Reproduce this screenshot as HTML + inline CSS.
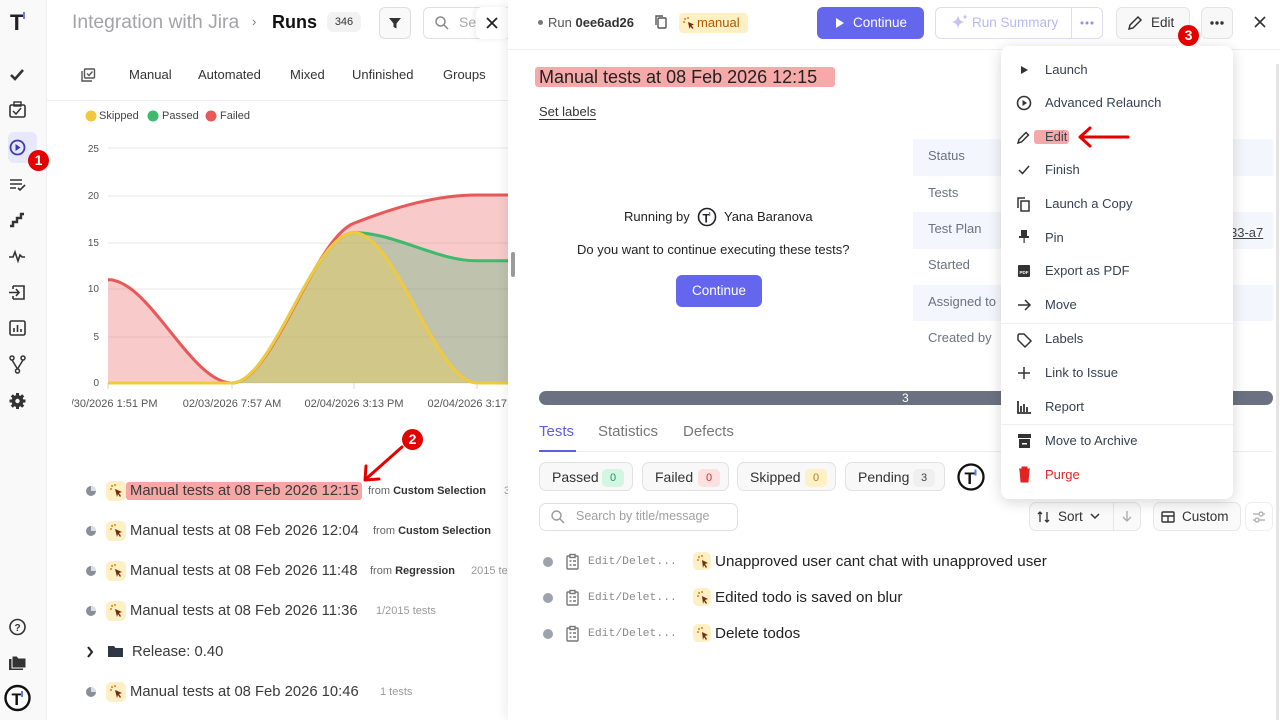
<!DOCTYPE html>
<html><head><meta charset="utf-8">
<style>
*{margin:0;padding:0;box-sizing:border-box}
html,body{width:1280px;height:720px;overflow:hidden;background:#fff;font-family:"Liberation Sans",Arial,sans-serif;color:#333}
.a{position:absolute;white-space:nowrap}
.t13{font-size:13px;line-height:16px}
.lbl{font-size:13px;line-height:16px;color:#6b7280}
.mi{position:absolute;white-space:nowrap;left:1045px;font-size:13px;line-height:16px;color:#374151}
.chip{position:absolute;top:462px;height:29px;border:1px solid #e2e2e2;border-radius:7px;background:#f8f8f8}
.chip span.n{position:absolute;top:6px;height:18px;width:22px;border-radius:5px;font-size:11px;line-height:18px;text-align:center}
.chip span.l{position:absolute;left:12px;top:6px;font-size:14px;line-height:17px;color:#333}
.mb{position:absolute;width:20px;height:20px;border-radius:5px;background:#fdf0c4}
.runt{font-size:14.8px;line-height:18px;color:#3a3a3a}
.sm{font-size:11px;line-height:14px;color:#666}
.badge{position:absolute;width:21px;height:21px;border-radius:50%;background:#e50000;color:#fff;font-weight:bold;font-size:14px;line-height:21px;text-align:center}
</style></head><body>

<!-- SIDEBAR -->
<div class="a" style="left:0;top:0;width:47px;height:720px;background:#f9f9fa;border-right:1px solid #efefef;z-index:1"></div>
<svg class="a" style="left:0;top:0;z-index:2" width="47" height="720" viewBox="0 0 47 720">
 <rect x="8" y="132" width="29" height="31" rx="6" fill="#e7e8fb"/>
 <text x="10" y="30" font-family="Liberation Sans" font-weight="bold" font-size="22" fill="#222">T</text>
 <rect x="23" y="12" width="2" height="7" fill="#6b7cf0"/>
 <polyline points="11,75 15,79 23,70" fill="none" stroke="#333" stroke-width="2.6"/>
 <rect x="10" y="105" width="15" height="12" rx="1.5" fill="none" stroke="#333" stroke-width="1.6"/>
 <rect x="14" y="102" width="7" height="4" fill="none" stroke="#333" stroke-width="1.4"/>
 <polyline points="13,111 16,114 21,108" fill="none" stroke="#333" stroke-width="1.5"/>
 <circle cx="17.5" cy="147.5" r="7" fill="none" stroke="#3b3bb5" stroke-width="1.8"/>
 <polygon points="15.5,144 15.5,151 20.5,147.5" fill="#3b3bb5"/>
 <path d="M10,180h12M10,184h12M10,188h6" stroke="#333" stroke-width="1.6"/>
 <polyline points="18,188 20,190 25,185" fill="none" stroke="#333" stroke-width="1.6"/>
 <polyline points="10,226 13,226 13,222 17,222 17,218 21,218 21,214 24,214" fill="none" stroke="#333" stroke-width="2.4"/>
 <polyline points="9,257 13,257 15,252 18,261 20,255 22,257 25,257" fill="none" stroke="#333" stroke-width="1.6"/>
 <path d="M13,286h11v13h-11M13,286v3M13,296v3" fill="none" stroke="#333" stroke-width="1.6"/>
 <path d="M9,292.5h10M16,289l3,3.5l-3,3.5" fill="none" stroke="#333" stroke-width="1.6"/>
 <rect x="10" y="321" width="15" height="14" rx="1.5" fill="none" stroke="#333" stroke-width="1.6"/>
 <path d="M14,332v-4M17.5,332v-7M21,332v-3" stroke="#333" stroke-width="1.6"/>
 <circle cx="12" cy="358" r="2" fill="none" stroke="#333" stroke-width="1.5"/>
 <circle cx="23" cy="358" r="2" fill="none" stroke="#333" stroke-width="1.5"/>
 <circle cx="17.5" cy="371" r="2" fill="none" stroke="#333" stroke-width="1.5"/>
 <path d="M12,360l5.5,9M23,360l-5.5,9" stroke="#333" stroke-width="1.5"/>
 <circle cx="17.5" cy="401" r="6" fill="#333"/>
 <g stroke="#333" stroke-width="3"><path d="M17.5,393v16M9.5,401h16M11.8,395.3l11.4,11.4M23.2,395.3l-11.4,11.4"/></g>
 <circle cx="17.5" cy="401" r="2.2" fill="#f9f9fa"/>
 <circle cx="17.5" cy="627" r="7.5" fill="none" stroke="#333" stroke-width="1.6"/>
 <text x="17.5" y="631" text-anchor="middle" font-family="Liberation Sans" font-weight="bold" font-size="10" fill="#333">?</text>
 <path d="M9,659h14v11h-14z" fill="#333"/><path d="M12,656h5l1.5,2h7.5v10h-14z" fill="#333" stroke="#f9f9fa" stroke-width="1"/>
 <circle cx="17.5" cy="698" r="12" fill="#fff" stroke="#111" stroke-width="2.4"/>
 <text x="11.5" y="705" font-family="Liberation Sans" font-weight="bold" font-size="17" fill="#111">T</text>
 <rect x="21" y="691" width="2" height="6" fill="#5b7cf0"/>
</svg>
<div class="badge" style="left:28px;top:150px;z-index:3">1</div>

<!-- LEFT HEADER -->
<div class="a" style="left:72px;top:11px;font-size:19.3px;line-height:23px;color:#a3a3a8">Integration with Jira</div>
<div class="a" style="left:252px;top:14px;font-size:13px;color:#777">›</div>
<div class="a" style="left:272px;top:12px;font-size:18px;line-height:21px;color:#111;font-weight:bold">Runs</div>
<div class="a" style="left:327px;top:12px;width:34px;height:20px;border-radius:6px;background:#f2f2f3;font-size:11px;line-height:20px;text-align:center;color:#333">346</div>
<div class="a" style="left:379px;top:7px;width:32px;height:32px;border:1px solid #dedede;border-radius:6px;background:#f9f9f9"></div>
<svg class="a" style="left:388px;top:16px" width="14" height="14"><path d="M1,2h12l-4.5,5.5v5l-3,-1.5v-3.5z" fill="#333"/></svg>
<div class="a" style="left:423px;top:7px;width:90px;height:32px;border:1px solid #e0e0e0;border-radius:6px"></div>
<svg class="a" style="left:434px;top:15px" width="16" height="16"><circle cx="6.5" cy="6.5" r="4.5" fill="none" stroke="#888" stroke-width="1.5"/><path d="M10,10l4,4" stroke="#888" stroke-width="1.5"/></svg>
<div class="a" style="left:459px;top:14px;font-size:14px;color:#aaa">Se</div>
<div class="a" style="left:476px;top:7px;width:34px;height:32px;background:#fff;border-radius:6px;box-shadow:-2px 0 6px rgba(0,0,0,0.08);z-index:3"></div>
<svg class="a" style="left:485px;top:16px;z-index:4" width="14" height="14"><path d="M2,2l10,10M12,2l-10,10" stroke="#222" stroke-width="1.8"/></svg>

<!-- LEFT TABS -->
<svg class="a" style="left:80px;top:68px" width="16" height="15"><path d="M2,3v10h10" fill="none" stroke="#555" stroke-width="1.4"/><rect x="4.5" y="1" width="10" height="9" rx="1" fill="none" stroke="#555" stroke-width="1.4"/><polyline points="7,5.5 9,7.5 12.5,3.5" fill="none" stroke="#555" stroke-width="1.4"/></svg>
<div class="a t13" style="left:129px;top:67px;color:#333">Manual</div>
<div class="a t13" style="left:198px;top:67px;color:#333">Automated</div>
<div class="a t13" style="left:290px;top:67px;color:#333">Mixed</div>
<div class="a t13" style="left:352px;top:67px;color:#333">Unfinished</div>
<div class="a t13" style="left:443px;top:67px;color:#333">Groups</div>
<div class="a" style="left:47px;top:100px;width:461px;height:1px;background:#ececec"></div>

<!-- LEGEND -->
<svg class="a" style="left:80px;top:106px" width="200" height="20">
 <circle cx="11" cy="10" r="5.5" fill="#f0c93e"/>
 <circle cx="73" cy="10" r="5.5" fill="#3dba6c"/>
 <circle cx="131" cy="10" r="5.5" fill="#e85a5a"/>
</svg>
<div class="a" style="left:99px;top:110px;font-size:11px;line-height:13px;color:#444">Skipped</div>
<div class="a" style="left:162px;top:110px;font-size:11px;line-height:13px;color:#444">Passed</div>
<div class="a" style="left:220px;top:110px;font-size:11px;line-height:13px;color:#444">Failed</div>

<!-- CHART -->
<svg class="a" style="left:0;top:0" width="510" height="420" viewBox="0 0 510 420">
 <defs><clipPath id="cp"><rect x="72" y="130" width="436" height="290"/></clipPath></defs>
 <g clip-path="url(#cp)">
 <g stroke="#ececec" stroke-width="1.2">
  <line x1="108" y1="148" x2="510" y2="148"/>
  <line x1="108" y1="196" x2="510" y2="196"/>
  <line x1="108" y1="243" x2="510" y2="243"/>
  <line x1="108" y1="289" x2="510" y2="289"/>
  <line x1="108" y1="337" x2="510" y2="337"/>
  <line x1="108" y1="383" x2="510" y2="383"/>
 </g>
 <g stroke="#dcdcdc" stroke-width="1.2">
  <line x1="108" y1="383" x2="108" y2="389"/>
  <line x1="232" y1="383" x2="232" y2="389"/>
  <line x1="354" y1="383" x2="354" y2="389"/>
  <line x1="477" y1="383" x2="477" y2="389"/>
 </g>
 <path d="M108,279.6 C149.3,279.6 190.7,383 232,383 C272.7,383 313.3,239.1 354,223.2 C395,207.2 436,195 477,195 L520,195 L520,383 L108,383Z" fill="rgba(232,80,80,0.3)"/>
 <path d="M108,383 L232,383 C272.7,383 313.3,232.6 354,232.6 C395,232.6 436,260.8 477,260.8 L520,260.8 L520,383Z" fill="rgba(60,180,110,0.3)"/>
 <path d="M108,383 L232,383 C272.7,383 313.3,232.6 354,232.6 C395,232.6 436,383 477,383 L520,383Z" fill="rgba(240,205,70,0.35)"/>
 <path d="M108,279.6 C149.3,279.6 190.7,383 232,383 C272.7,383 313.3,239.1 354,223.2 C395,207.2 436,195 477,195 L520,195" fill="none" stroke="#e85858" stroke-width="3"/>
 <path d="M108,383 L232,383 C272.7,383 313.3,232.6 354,232.6 C395,232.6 436,260.8 477,260.8 L520,260.8" fill="none" stroke="#3dba6c" stroke-width="3"/>
 <path d="M108,383 L232,383 C272.7,383 313.3,232.6 354,232.6 C395,232.6 436,383 477,383 L520,383" fill="none" stroke="#f0c93e" stroke-width="3"/>
 <g font-family="Liberation Sans" font-size="11" fill="#555" text-anchor="middle">
  <text x="108" y="407">01/30/2026 1:51 PM</text>
  <text x="232" y="407">02/03/2026 7:57 AM</text>
  <text x="354" y="407">02/04/2026 3:13 PM</text>
  <text x="477" y="407">02/04/2026 3:17 PM</text>
 </g>
 </g>
 <g font-family="Liberation Sans" font-size="10" fill="#555" text-anchor="end">
  <text x="99" y="152">25</text>
  <text x="99" y="199">20</text>
  <text x="99" y="246">15</text>
  <text x="99" y="292">10</text>
  <text x="99" y="340">5</text>
  <text x="99" y="386">0</text>
 </g>
</svg>

<!-- RUN LIST -->
<svg class="a" style="left:84px;top:480px" width="50" height="225">
 <g>
  <circle cx="7" cy="11" r="5" fill="#8a8f99"/><path d="M7,6a5,5 0 0 1 5,5h-5z" fill="#fff" opacity=".7"/>
  <circle cx="7" cy="51" r="5" fill="#8a8f99"/><path d="M7,46a5,5 0 0 1 5,5h-5z" fill="#fff" opacity=".7"/>
  <circle cx="7" cy="91" r="5" fill="#8a8f99"/><path d="M7,86a5,5 0 0 1 5,5h-5z" fill="#fff" opacity=".7"/>
  <circle cx="7" cy="131" r="5" fill="#8a8f99"/><path d="M7,126a5,5 0 0 1 5,5h-5z" fill="#fff" opacity=".7"/>
  <circle cx="7" cy="212" r="5" fill="#8a8f99"/><path d="M7,207a5,5 0 0 1 5,5h-5z" fill="#fff" opacity=".7"/>
  <polyline points="4,167 8,172 4,177" fill="none" stroke="#222" stroke-width="2"/>
  <path d="M24,166h6l1.5,2h7.5v9h-15z" fill="#2f3747"/>
 </g>
</svg>
<div class="mb" style="left:106px;top:481px"></div>
<div class="mb" style="left:106px;top:521px"></div>
<div class="mb" style="left:106px;top:561px"></div>
<div class="mb" style="left:106px;top:601px"></div>
<div class="mb" style="left:106px;top:682px"></div>
<svg class="a" style="left:106px;top:480px" width="20" height="225">
 <g fill="#e2801a"><circle cx="6" cy="6" r="1"/><circle cx="9" cy="5" r="1"/><circle cx="5" cy="9" r="1"/><path d="M9,9l7,3l-3,1l2,3l-1,1l-2,-3l-1,3z" fill="#7a2b0a"/></g>
 <g fill="#e2801a" transform="translate(0,40)"><circle cx="6" cy="6" r="1"/><circle cx="9" cy="5" r="1"/><circle cx="5" cy="9" r="1"/><path d="M9,9l7,3l-3,1l2,3l-1,1l-2,-3l-1,3z" fill="#7a2b0a"/></g>
 <g fill="#e2801a" transform="translate(0,80)"><circle cx="6" cy="6" r="1"/><circle cx="9" cy="5" r="1"/><circle cx="5" cy="9" r="1"/><path d="M9,9l7,3l-3,1l2,3l-1,1l-2,-3l-1,3z" fill="#7a2b0a"/></g>
 <g fill="#e2801a" transform="translate(0,120)"><circle cx="6" cy="6" r="1"/><circle cx="9" cy="5" r="1"/><circle cx="5" cy="9" r="1"/><path d="M9,9l7,3l-3,1l2,3l-1,1l-2,-3l-1,3z" fill="#7a2b0a"/></g>
 <g fill="#e2801a" transform="translate(0,201)"><circle cx="6" cy="6" r="1"/><circle cx="9" cy="5" r="1"/><circle cx="5" cy="9" r="1"/><path d="M9,9l7,3l-3,1l2,3l-1,1l-2,-3l-1,3z" fill="#7a2b0a"/></g>
</svg>
<div class="a" style="left:126px;top:482px;width:236px;height:18px;background:#f7a6a6;border-radius:3px"></div>
<div class="a runt" style="left:130px;top:482px">Manual tests at 08 Feb 2026 12:15</div>
<div class="a sm" style="left:368px;top:484px">from <b style="color:#333">Custom Selection</b></div>
<div class="a sm" style="left:504px;top:484px;color:#999">3</div>
<div class="a runt" style="left:130px;top:522px">Manual tests at 08 Feb 2026 12:04</div>
<div class="a sm" style="left:373px;top:524px">from <b style="color:#333">Custom Selection</b></div>
<div class="a runt" style="left:130px;top:562px">Manual tests at 08 Feb 2026 11:48</div>
<div class="a sm" style="left:370px;top:564px">from <b style="color:#333">Regression</b></div>
<div class="a sm" style="left:471px;top:564px;color:#999">2015 tes</div>
<div class="a runt" style="left:130px;top:602px">Manual tests at 08 Feb 2026 11:36</div>
<div class="a sm" style="left:376px;top:604px;color:#999">1/2015 tests</div>
<div class="a runt" style="left:132px;top:643px">Release: 0.40</div>
<div class="a runt" style="left:130px;top:683px">Manual tests at 08 Feb 2026 10:46</div>
<div class="a sm" style="left:380px;top:685px;color:#999">1 tests</div>

<!-- annotation 2 -->
<svg class="a" style="left:355px;top:425px;z-index:3" width="70" height="65"><path d="M47,22L12,53" stroke="#e50000" stroke-width="3" stroke-linecap="round"/><polyline points="11,41 10,55 24,54" fill="none" stroke="#e50000" stroke-width="3" stroke-linecap="round" stroke-linejoin="round"/></svg>
<div class="badge" style="left:402px;top:429px;z-index:3">2</div>

<!-- scroll handle -->
<div class="a" style="left:511px;top:252px;width:4px;height:25px;background:#9a9a9a;border-radius:2px;z-index:6"></div>

<!-- RIGHT PANEL -->
<div class="a" style="left:508px;top:0;width:772px;height:720px;background:#fff;box-shadow:-3px 0 10px rgba(0,0,0,0.07);z-index:5"></div>
<div class="a" style="left:508px;top:0;width:772px;height:720px;z-index:7">
 <div class="a" style="left:0;top:49px;width:772px;height:1px;background:#efefef"></div>
 <div class="a" style="left:30px;top:20px;width:5px;height:5px;border-radius:50%;background:#777"></div>
 <div class="a" style="left:40px;top:15px;font-size:13px;line-height:15px;color:#555">Run <b style="color:#333">0ee6ad26</b></div>
 <svg class="a" style="left:146px;top:14px" width="14" height="16"><rect x="4" y="4" width="8" height="10" rx="1" fill="none" stroke="#555" stroke-width="1.4"/><path d="M2,11v-9h7" fill="none" stroke="#555" stroke-width="1.4"/></svg>
 <div class="a" style="left:171px;top:13px;width:69px;height:20px;border-radius:4px;background:#fdf0c4"></div>
 <svg class="a" style="left:172px;top:14px" width="18" height="18"><g fill="#e2801a"><circle cx="5" cy="5" r="1"/><circle cx="8" cy="4" r="1"/><circle cx="4" cy="8" r="1"/><path d="M8,8l6,2.5l-2.5,1l2,2.5l-1,1l-2,-2.5l-1,2.5z" fill="#7a2b0a"/></g></svg>
 <div class="a" style="left:189px;top:15px;font-size:13px;line-height:16px;color:#b05a00">manual</div>
 <div class="a" style="left:309px;top:7px;width:107px;height:32px;background:#6466ee;border-radius:6px"></div>
 <svg class="a" style="left:326px;top:17px" width="12" height="12"><polygon points="2,1 2,11 10,6" fill="#fff"/></svg>
 <div class="a" style="left:345px;top:15px;font-size:13.5px;line-height:16px;color:#fff">Continue</div>
 <div class="a" style="left:427px;top:7px;width:168px;height:32px;border:1px solid #dcdcf7;border-radius:6px"></div>
 <div class="a" style="left:563px;top:8px;width:1px;height:30px;background:#dcdcf7"></div>
 <svg class="a" style="left:442px;top:13px" width="20" height="20"><path d="M8,2 Q8.5,8 14,9 Q8.5,10 8,16 Q7.5,10 2,9 Q7.5,8 8,2z" fill="#c3c4f4"/><path d="M15,1 Q15.3,3.7 18,4 Q15.3,4.3 15,7 Q14.7,4.3 12,4 Q14.7,3.7 15,1z" fill="#c3c4f4"/></svg>
 <div class="a" style="left:464px;top:15px;font-size:13.5px;line-height:16px;color:#b7b8f0">Run Summary</div>
 <svg class="a" style="left:571px;top:20px" width="16" height="6"><circle cx="3" cy="3" r="1.5" fill="#8e8fe6"/><circle cx="8" cy="3" r="1.5" fill="#8e8fe6"/><circle cx="13" cy="3" r="1.5" fill="#8e8fe6"/></svg>
 <div class="a" style="left:608px;top:7px;width:74px;height:32px;border:1px solid #e4e4e4;border-radius:6px;background:#f8f8f8"></div>
 <svg class="a" style="left:619px;top:15px" width="16" height="16"><path d="M2,14l1,-4l8,-8l3,3l-8,8z" fill="none" stroke="#333" stroke-width="1.5"/></svg>
 <div class="a" style="left:643px;top:15px;font-size:13.5px;line-height:16px;color:#333">Edit</div>
 <div class="a" style="left:693px;top:7px;width:32px;height:32px;border:1px solid #e4e4e4;border-radius:6px;background:#f8f8f8"></div>
 <svg class="a" style="left:701px;top:20px" width="16" height="6"><circle cx="3" cy="3" r="1.7" fill="#333"/><circle cx="8" cy="3" r="1.7" fill="#333"/><circle cx="13" cy="3" r="1.7" fill="#333"/></svg>
 <svg class="a" style="left:745px;top:15px" width="14" height="14"><path d="M2,2l10,10M12,2l-10,10" stroke="#333" stroke-width="1.6"/></svg>

 <!-- title -->
 <div class="a" style="left:27px;top:67px;width:300px;height:20px;background:#f7a9a9;border-radius:3px"></div>
 <div class="a" style="left:31px;top:67px;font-size:18px;line-height:21px;color:#222">Manual tests at 08 Feb 2026 12:15</div>
 <div class="a t13" style="left:31px;top:104px;color:#333;text-decoration:underline;text-underline-offset:3px">Set labels</div>

 <!-- running by -->
 <div class="a t13" style="left:116px;top:209px;color:#222">Running by</div>
 <svg class="a" style="left:189px;top:207px" width="20" height="20"><circle cx="10" cy="10" r="8.5" fill="#fff" stroke="#222" stroke-width="1.6"/><text x="5.5" y="15.5" font-family="Liberation Sans" font-weight="bold" font-size="12" fill="#222">T</text><rect x="12" y="5" width="1.3" height="4" fill="#5b7cf0"/></svg>
 <div class="a t13" style="left:216px;top:209px;color:#222">Yana Baranova</div>
 <div class="a t13" style="left:69px;top:242px;color:#222">Do you want to continue executing these tests?</div>
 <div class="a" style="left:168px;top:275px;width:86px;height:32px;background:#6466ee;border-radius:6px;color:#fff;font-size:13.5px;line-height:32px;text-align:center">Continue</div>

 <!-- status table -->
 <div class="a" style="left:405px;top:139px;width:360px;height:37px;background:#f4f6fd"></div>
 <div class="a" style="left:405px;top:212px;width:360px;height:37px;background:#f4f6fd"></div>
 <div class="a" style="left:405px;top:285px;width:360px;height:36px;background:#f4f6fd"></div>
 <div class="a lbl" style="left:420px;top:148px">Status</div>
 <div class="a lbl" style="left:420px;top:185px">Tests</div>
 <div class="a lbl" style="left:420px;top:221px">Test Plan</div>
 <div class="a lbl" style="left:420px;top:257px">Started</div>
 <div class="a lbl" style="left:420px;top:294px">Assigned to</div>
 <div class="a lbl" style="left:420px;top:330px">Created by</div>
 <div class="a t13" style="left:722px;top:225px;color:#444;text-decoration:underline">33-a7</div>

 <!-- progress -->
 <div class="a" style="left:31px;top:391px;width:734px;height:14px;background:#6b7180;border-radius:7px;color:#fff;font-size:12px;line-height:14px"><span style="position:absolute;left:363px">3</span></div>

 <!-- tabs -->
 <div class="a" style="left:31px;top:451px;width:734px;height:1px;background:#ececec"></div>
 <div class="a" style="left:31px;top:423px;font-size:15px;line-height:17px;color:#5b5fe0">Tests</div>
 <div class="a" style="left:31px;top:450px;width:37px;height:2px;background:#5b5fe0"></div>
 <div class="a" style="left:90px;top:423px;font-size:15px;line-height:17px;color:#777">Statistics</div>
 <div class="a" style="left:175px;top:423px;font-size:15px;line-height:17px;color:#777">Defects</div>
</div>

<!-- chips -->
<div style="position:absolute;left:0;top:0;z-index:8">
 <div class="chip" style="left:539px;width:94px"><span class="l">Passed</span><span class="n" style="left:62px;background:#d3f5e3;color:#1a9a5a">0</span></div>
 <div class="chip" style="left:642px;width:87px"><span class="l">Failed</span><span class="n" style="left:55px;background:#fde0e0;color:#c33">0</span></div>
 <div class="chip" style="left:737px;width:99px"><span class="l">Skipped</span><span class="n" style="left:67px;background:#fdf1c8;color:#b7791f">0</span></div>
 <div class="chip" style="left:845px;width:100px"><span class="l">Pending</span><span class="n" style="left:67px;background:#efefef;color:#444">3</span></div>
 <svg class="a" style="left:957px;top:463px" width="28" height="28"><circle cx="14" cy="14" r="12.5" fill="#fff" stroke="#111" stroke-width="2.3"/><text x="7.5" y="21" font-family="Liberation Sans" font-weight="bold" font-size="17" fill="#111">T</text><rect x="17.5" y="6.5" width="2" height="6" fill="#5b7cf0"/></svg>
 <div class="a" style="left:539px;top:503px;width:199px;height:28px;border:1px solid #e0e0e0;border-radius:7px"></div>
 <svg class="a" style="left:550px;top:509px" width="16" height="16"><circle cx="6.5" cy="6.5" r="4.5" fill="none" stroke="#999" stroke-width="1.4"/><path d="M10,10l4,4" stroke="#999" stroke-width="1.4"/></svg>
 <div class="a" style="left:576px;top:509px;width:133px;overflow:hidden;font-size:12.5px;line-height:15px;color:#a0a0a0">Search by title/message</div>

 <div class="a" style="left:1029px;top:502px;width:112px;height:29px;border:1px solid #e6e6e6;border-radius:7px;background:#fafafa"></div>
 <div class="a" style="left:1113px;top:503px;width:1px;height:27px;background:#e6e6e6"></div>
 <svg class="a" style="left:1036px;top:509px" width="16" height="16"><path d="M4,13V3M2,5l2,-2l2,2M11,3v10M9,11l2,2l2,-2" fill="none" stroke="#333" stroke-width="1.3"/></svg>
 <div class="a" style="left:1058px;top:509px;font-size:13.5px;line-height:16px;color:#333">Sort</div>
 <svg class="a" style="left:1089px;top:512px" width="12" height="10"><polyline points="2,2 6,6 10,2" fill="none" stroke="#333" stroke-width="1.5"/></svg>
 <svg class="a" style="left:1121px;top:509px" width="12" height="14"><path d="M6,2v10M2,8l4,4l4,-4" fill="none" stroke="#aaa" stroke-width="1.3"/></svg>
 <div class="a" style="left:1153px;top:502px;width:88px;height:29px;border:1px solid #e6e6e6;border-radius:7px;background:#fafafa"></div>
 <svg class="a" style="left:1160px;top:509px" width="16" height="16"><rect x="2" y="3" width="12" height="10" rx="1" fill="none" stroke="#333" stroke-width="1.4"/><path d="M2,7h12M8,7v6" stroke="#333" stroke-width="1.4"/></svg>
 <div class="a" style="left:1182px;top:509px;font-size:13.5px;line-height:16px;color:#333">Custom</div>
 <div class="a" style="left:1245px;top:502px;width:28px;height:29px;border:1px solid #eee;border-radius:7px"></div>
 <svg class="a" style="left:1251px;top:509px" width="16" height="16"><path d="M2,5h12M2,11h12" stroke="#aaa" stroke-width="1.2"/><circle cx="10" cy="5" r="2" fill="#fff" stroke="#aaa" stroke-width="1.2"/><circle cx="6" cy="11" r="2" fill="#fff" stroke="#aaa" stroke-width="1.2"/></svg>

 <!-- test rows -->
 <svg class="a" style="left:540px;top:550px" width="40" height="100">
  <circle cx="8" cy="12" r="5" fill="#9ca3af"/><circle cx="8" cy="48" r="5" fill="#9ca3af"/><circle cx="8" cy="84" r="5" fill="#9ca3af"/>
  <g fill="none" stroke="#777" stroke-width="1.4">
   <rect x="27" y="6" width="11" height="13" rx="1"/><rect x="30" y="4.5" width="5" height="3" fill="#fff"/><path d="M29.5,11h2M33,11h3M29.5,15h2M33,15h3"/>
   <rect x="27" y="42" width="11" height="13" rx="1"/><rect x="30" y="40.5" width="5" height="3" fill="#fff"/><path d="M29.5,47h2M33,47h3M29.5,51h2M33,51h3"/>
   <rect x="27" y="78" width="11" height="13" rx="1"/><rect x="30" y="76.5" width="5" height="3" fill="#fff"/><path d="M29.5,83h2M33,83h3M29.5,87h2M33,87h3"/>
  </g>
 </svg>
 <div class="a" style="left:588px;top:555px;font-family:'Liberation Mono',monospace;font-size:11.4px;line-height:14px;color:#8a8a8a">Edit/Delet...</div>
 <div class="a" style="left:588px;top:591px;font-family:'Liberation Mono',monospace;font-size:11.4px;line-height:14px;color:#8a8a8a">Edit/Delet...</div>
 <div class="a" style="left:588px;top:627px;font-family:'Liberation Mono',monospace;font-size:11.4px;line-height:14px;color:#8a8a8a">Edit/Delet...</div>
 <div class="mb" style="left:693px;top:552px;width:18px;height:18px"></div>
 <div class="mb" style="left:693px;top:588px;width:18px;height:18px"></div>
 <div class="mb" style="left:693px;top:624px;width:18px;height:18px"></div>
 <svg class="a" style="left:693px;top:551px" width="20" height="90">
  <g fill="#e2801a"><circle cx="6" cy="6" r="1"/><circle cx="9" cy="5" r="1"/><circle cx="5" cy="9" r="1"/><path d="M9,9l6,3l-3,1l2,3l-1,1l-2,-3l-1,3z" fill="#7a2b0a"/></g>
  <g fill="#e2801a" transform="translate(0,36)"><circle cx="6" cy="6" r="1"/><circle cx="9" cy="5" r="1"/><circle cx="5" cy="9" r="1"/><path d="M9,9l6,3l-3,1l2,3l-1,1l-2,-3l-1,3z" fill="#7a2b0a"/></g>
  <g fill="#e2801a" transform="translate(0,72)"><circle cx="6" cy="6" r="1"/><circle cx="9" cy="5" r="1"/><circle cx="5" cy="9" r="1"/><path d="M9,9l6,3l-3,1l2,3l-1,1l-2,-3l-1,3z" fill="#7a2b0a"/></g>
 </svg>
 <div class="a" style="left:715px;top:553px;font-size:15.2px;line-height:18px;color:#222">Unapproved user cant chat with unapproved user</div>
 <div class="a" style="left:715px;top:589px;font-size:15.2px;line-height:18px;color:#222">Edited todo is saved on blur</div>
 <div class="a" style="left:715px;top:625px;font-size:15.2px;line-height:18px;color:#222">Delete todos</div>

 <!-- right scrollbar -->
 <div class="a" style="left:1276px;top:64px;width:3px;height:656px;background:#e4e4e4"></div>
</div>

<!-- MENU -->
<div class="a" style="left:1001px;top:46px;width:232px;height:453px;background:#fff;border-radius:8px;box-shadow:0 3px 14px rgba(0,0,0,0.16);z-index:20">
 <div class="a" style="left:0;top:277px;width:232px;height:1px;background:#efefef"></div>
 <div class="a" style="left:0;top:378px;width:232px;height:1px;background:#efefef"></div>
</div>
<div style="position:absolute;left:0;top:0;z-index:21">
 <svg class="a" style="left:1012px;top:58px" width="26" height="430">
  <g fill="#333" stroke="#333">
   <polygon points="9,8 9,16 16,12" stroke="none"/>
   <circle cx="12" cy="45" r="6.5" fill="none" stroke-width="1.6"/><polygon points="10.5,42 10.5,48 15,45" stroke="none"/>
   <path d="M6,85l1,-3.5l7,-7l2.5,2.5l-7,7z" fill="none" stroke-width="1.5"/>
   <polyline points="7,112 10.5,115.5 17,108" fill="none" stroke-width="1.5"/>
   <rect x="9" y="143" width="8" height="10" fill="none" stroke-width="1.5"/><path d="M6,150v-10h7" fill="none" stroke-width="1.5"/>
   <path d="M9,172h6v6h2v2h-10v-2h2z" stroke="none"/><rect x="11.5" y="180" width="1.2" height="5" stroke="none"/>
   <rect x="6" y="207" width="12" height="12" rx="1" stroke="none"/>
   <path d="M6,247h12M13,242l5,5l-5,5" fill="none" stroke-width="1.5"/>
   <path d="M6,277v5l7,7l6,-6l-7,-7h-5z" fill="none" stroke-width="1.5"/>
   <path d="M12,309v12M6,315h12" fill="none" stroke-width="1.5"/>
   <path d="M6,343v12h13M9,354v-6M12,354v-8M15,354v-5" fill="none" stroke-width="1.8"/>
   <rect x="6" y="376" width="13" height="4" stroke="none"/><rect x="7" y="381" width="11" height="9" stroke="none"/>
  </g>
  <text x="12" y="216" font-family="Liberation Sans" font-size="4.5" font-weight="bold" fill="#fff" text-anchor="middle">PDF</text>
  <rect x="10" y="385" width="5" height="1.5" fill="#fff"/>
  <path d="M7,411h11M10,411v-2h5v2M8,412h9l-1,12h-7z" fill="#e02424" stroke="#e02424" stroke-width="1"/>
 </svg>
 <div class="a" style="left:1034px;top:130px;width:35px;height:14px;background:#f5a8a8;border-radius:3px"></div>
 <div class="mi" style="top:62px">Launch</div>
 <div class="mi" style="top:95px">Advanced Relaunch</div>
 <div class="mi" style="top:129px">Edit</div>
 <div class="mi" style="top:162px">Finish</div>
 <div class="mi" style="top:196px">Launch a Copy</div>
 <div class="mi" style="top:230px">Pin</div>
 <div class="mi" style="top:263px">Export as PDF</div>
 <div class="mi" style="top:297px">Move</div>
 <div class="mi" style="top:331px">Labels</div>
 <div class="mi" style="top:365px">Link to Issue</div>
 <div class="mi" style="top:399px">Report</div>
 <div class="mi" style="top:433px">Move to Archive</div>
 <div class="mi" style="top:467px;color:#e02424">Purge</div>
 <svg class="a" style="left:1074px;top:124px" width="58" height="26"><path d="M54,13H8" stroke="#e50000" stroke-width="3" stroke-linecap="round"/><polyline points="16,4 6,13 16,22" fill="none" stroke="#e50000" stroke-width="3" stroke-linecap="round" stroke-linejoin="round"/></svg>
</div>
<div class="badge" style="left:1178px;top:25px;z-index:22">3</div>

</body></html>
